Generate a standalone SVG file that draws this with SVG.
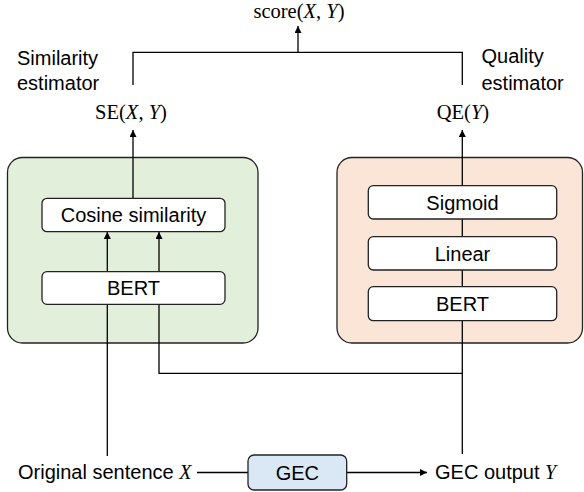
<svg xmlns="http://www.w3.org/2000/svg" width="584" height="492" viewBox="0 0 584 492">
<defs>
<marker id="ah" viewBox="0 0 10 10" refX="10" refY="5" markerWidth="7" markerHeight="7" markerUnits="userSpaceOnUse" orient="auto">
<path d="M0,0 L10,5 L0,10 z" fill="#000"/>
</marker>
<style>
.sans{font-family:"Liberation Sans",Arial,sans-serif;font-size:20px;fill:#000}
.math{font-family:"Liberation Serif","Times New Roman",serif;font-size:20.5px;fill:#000}
.it{font-style:italic}
.outer{stroke:#222;stroke-width:1.3}
.inner{fill:#fff;stroke:#222;stroke-width:1.3}
.ln{fill:none;stroke:#000;stroke-width:1.3}
.arr{fill:none;stroke:#000;stroke-width:1.3;marker-end:url(#ah)}
</style>
</defs>
<rect width="584" height="492" fill="#fff"/>

<g id="se-block">
<rect class="outer" x="7.5" y="157.5" width="250.5" height="185.5" rx="15" fill="#e2efda"/>
</g>
<g id="qe-block">
<rect class="outer" x="337" y="157.5" width="245.5" height="185.5" rx="15" fill="#fbe5d6"/>
</g>

<g id="connectors">
<polyline class="ln" points="133,85 133,52.3 462.3,52.3 462.3,85"/>
<line class="arr" x1="298" y1="52.3" x2="298" y2="26"/>
<line class="arr" x1="133" y1="198" x2="133" y2="130"/>
<line class="arr" x1="462.3" y1="185.7" x2="462.3" y2="130"/>
<line class="ln" x1="462.3" y1="219" x2="462.3" y2="236.7"/>
<line class="ln" x1="462.3" y1="270" x2="462.3" y2="286.7"/>
<line class="arr" x1="107.3" y1="271.7" x2="107.3" y2="232"/>
<line class="arr" x1="159" y1="271.7" x2="159" y2="232"/>
<line class="ln" x1="107.3" y1="456" x2="107.3" y2="304.3"/>
<polyline class="ln" points="159,304.3 159,373.3 462.3,373.3"/>
<line class="ln" x1="462.3" y1="454" x2="462.3" y2="320.7"/>
<line class="ln" x1="197" y1="472.5" x2="248" y2="472.5"/>
<line class="arr" x1="346.7" y1="472.5" x2="427" y2="472.5"/>
</g>

<g id="cosine">
<rect class="inner" x="42" y="198.3" width="183" height="33.4" rx="5"/>
<text class="sans" x="133.5" y="222" text-anchor="middle">Cosine similarity</text>
</g>
<g id="bert-se">
<rect class="inner" x="42" y="271.7" width="183" height="32.6" rx="5"/>
<text class="sans" x="133.5" y="295" text-anchor="middle">BERT</text>
</g>
<g id="sigmoid">
<rect class="inner" x="368.3" y="185.7" width="188.4" height="33.3" rx="5"/>
<text class="sans" x="462.5" y="209.5" text-anchor="middle">Sigmoid</text>
</g>
<g id="linear">
<rect class="inner" x="368.3" y="236.7" width="188.4" height="33.3" rx="5"/>
<text class="sans" x="462.5" y="260.5" text-anchor="middle">Linear</text>
</g>
<g id="bert-qe">
<rect class="inner" x="368.3" y="286.7" width="188.4" height="34" rx="5"/>
<text class="sans" x="462.5" y="310.5" text-anchor="middle">BERT</text>
</g>
<g id="gec">
<rect class="outer" x="248" y="455" width="98.7" height="35" rx="6" fill="#dae8f5"/>
<text class="sans" x="297.3" y="479.5" text-anchor="middle">GEC</text>
</g>

<g id="labels">
<text class="math" x="299" y="18" text-anchor="middle">score(<tspan class="it">X</tspan>, <tspan class="it">Y</tspan>)</text>
<text class="math" x="131" y="118.5" text-anchor="middle">SE(<tspan class="it">X</tspan>, <tspan class="it">Y</tspan>)</text>
<text class="math" x="463" y="118.5" text-anchor="middle">QE(<tspan class="it">Y</tspan>)</text>
<text class="sans" x="17" y="65">Similarity</text>
<text class="sans" x="17" y="90">estimator</text>
<text class="sans" x="481.5" y="63">Quality</text>
<text class="sans" x="481.5" y="90">estimator</text>
<text class="sans" x="18" y="478.5">Original sentence <tspan class="math it" style="font-size:20px">X</tspan></text>
<text class="sans" x="435" y="478.5">GEC output <tspan class="math it" style="font-size:20px">Y</tspan></text>
</g>
</svg>
